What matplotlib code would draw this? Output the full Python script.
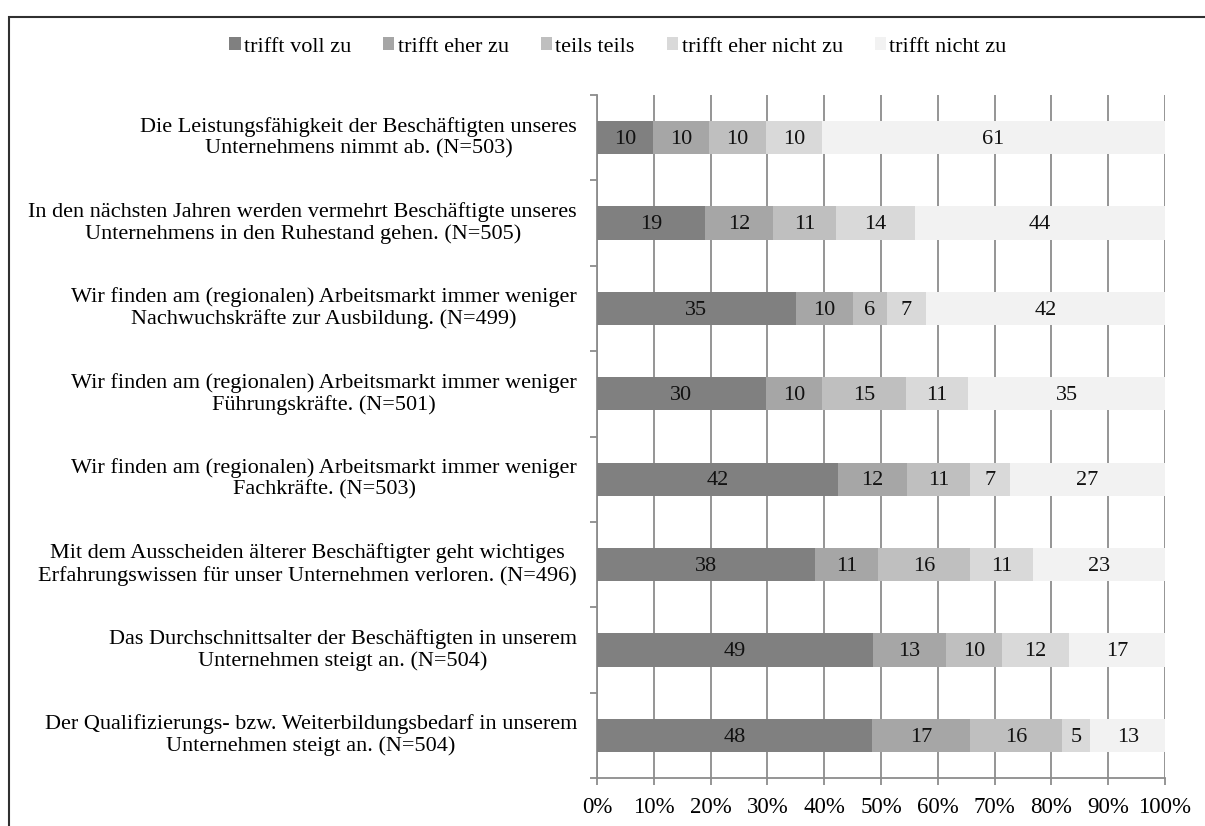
import numpy as np
import matplotlib
matplotlib.use("Agg")
import matplotlib.pyplot as plt
from matplotlib.patches import Rectangle

plt.rcParams['font.family'] = ['Liberation Serif', 'DejaVu Serif']

statements = [
    "Die Leistungsfähigkeit der Beschäftigten unseres\nUnternehmens nimmt ab. (N=503)",
    "In den nächsten Jahren werden vermehrt Beschäftigte unseres\nUnternehmens in den Ruhestand gehen. (N=505)",
    "Wir finden am (regionalen) Arbeitsmarkt immer weniger\nNachwuchskräfte zur Ausbildung. (N=499)",
    "Wir finden am (regionalen) Arbeitsmarkt immer weniger\nFührungskräfte. (N=501)",
    "Wir finden am (regionalen) Arbeitsmarkt immer weniger\nFachkräfte. (N=503)",
    "Mit dem Ausscheiden älterer Beschäftigter geht wichtiges\nErfahrungswissen für unser Unternehmen verloren. (N=496)",
    "Das Durchschnittsalter der Beschäftigten in unserem\nUnternehmen steigt an. (N=504)",
    "Der Qualifizierungs- bzw. Weiterbildungsbedarf in unserem\nUnternehmen steigt an. (N=504)",
]

categories = ["trifft voll zu", "trifft eher zu", "teils teils",
              "trifft eher nicht zu", "trifft nicht zu"]

voll_zu = [10, 19, 35, 30, 42, 38, 49, 48]
eher_zu = [10, 12, 10, 10, 12, 11, 13, 17]
teils = [10, 11, 6, 15, 11, 16, 10, 16]
eher_nicht = [10, 14, 7, 11, 7, 11, 12, 5]
nicht_zu = [61, 44, 42, 35, 27, 23, 17, 13]

colors = ["#808080", "#a6a6a6", "#bfbfbf", "#d9d9d9", "#f2f2f2"]

series = np.array([voll_zu, eher_zu, teils, eher_nicht, nicht_zu], dtype=float)
shares = series / series.sum(axis=0) * 100  # 100 % stacked

W, H = 1205, 826
fig = plt.figure(figsize=(W / 100, H / 100), dpi=100)

# outer chart frame (open towards right and bottom)
fig.add_artist(Rectangle((9 / W, -0.1), 1.2, 1 - 17 / H + 0.1,
                         transform=fig.transFigure, fill=False,
                         edgecolor="#303030", linewidth=1.5))

ax = fig.add_axes([597 / W, 1 - 778 / H, (1165 - 597) / W, (778 - 95) / H])

n = len(statements)
y = np.arange(n)
left = np.zeros(n)
for k in range(5):
    ax.barh(y, shares[k], left=left, height=0.39, color=colors[k],
            label=categories[k], zorder=3)
    for i in range(n):
        ax.text(left[i] + shares[k, i] / 2, y[i] + 0.02,
                f"{int(series[k, i])}",
                ha="center", va="center", fontsize=16, color="#111111",
                zorder=4)
    left += shares[k]

ax.set_xlim(0, 100)
ax.set_ylim(n - 0.5, -0.5)
ax.set_xticks(np.arange(0, 101, 10))
ax.set_xticklabels([f"{v}%" for v in range(0, 101, 10)], fontsize=16.5)
ax.xaxis.grid(True, color="#8c8c8c", linewidth=1.3, zorder=0)
ax.set_axisbelow(True)

ax.set_yticks(y)
ax.set_yticklabels([])
ax.tick_params(axis="y", which="major", length=0)
ax.set_yticks(np.arange(-0.5, n, 1), minor=True)
ax.tick_params(axis="y", which="minor", length=5, color="#8c8c8c", width=1.3)
ax.tick_params(axis="x", length=5, color="#8c8c8c", width=1.3, pad=9)

for s in ("top", "right"):
    ax.spines[s].set_visible(False)
for s in ("left", "bottom"):
    ax.spines[s].set_color("#8c8c8c")
    ax.spines[s].set_linewidth(1.3)

# statement labels, right edge of longest line at fixed position
for i, txt in enumerate(statements):
    yf = ax.transData.transform((0, y[i]))[1]
    fig.text(577 / W, yf / H, txt, ha="right", va="center",
             multialignment="center", fontsize=16, linespacing=1.15,
             transform=fig.transFigure)

fig.legend(loc="center", bbox_to_anchor=(618 / W, 1 - 47 / H), ncol=5,
           frameon=False, fontsize=16, handlelength=0.5, handleheight=0.5,
           handletextpad=0.15, columnspacing=1.45)

fig.savefig("out.png", dpi=100)
